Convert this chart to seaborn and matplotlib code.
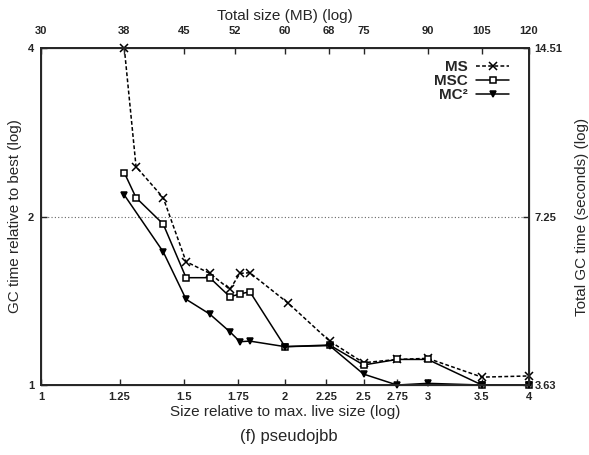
import matplotlib
matplotlib.use("Agg")
import matplotlib.pyplot as plt
import numpy as np
import pandas as pd
import seaborn as sns

# relative heap size (x) and GC time relative to best (y)
ms_x = [1.267, 1.31, 1.415, 1.51, 1.615, 1.71, 1.76, 1.81, 2.02, 2.27, 2.5, 2.75, 3.0, 3.5, 4.0]
ms_y = [4.0, 2.455, 2.161, 1.661, 1.583, 1.482, 1.583, 1.587, 1.399, 1.198, 1.096, 1.111, 1.116, 1.033, 1.038]

msc_x = [1.267, 1.31, 1.415, 1.51, 1.615, 1.71, 1.76, 1.81, 2.0, 2.27, 2.5, 2.75, 3.0, 3.5, 4.0]
msc_y = [2.395, 2.161, 1.939, 1.555, 1.555, 1.438, 1.454, 1.468, 1.171, 1.179, 1.086, 1.111, 1.111, 1.0, 1.0]

mc2_x = [1.267, 1.415, 1.51, 1.615, 1.71, 1.76, 1.81, 2.0, 2.27, 2.5, 2.75, 3.0, 3.5, 4.0]
mc2_y = [2.185, 1.730, 1.423, 1.339, 1.245, 1.195, 1.198, 1.171, 1.176, 1.046, 1.0, 1.007, 1.0, 1.0]

series_names = ["MS", "MSC", "MC²"]

bottom_ticks = [1, 1.25, 1.5, 1.75, 2, 2.25, 2.5, 2.75, 3, 3.5, 4]
bottom_labels = ["1", "1.25", "1.5", "1.75", "2", "2.25", "2.5", "2.75", "3", "3.5", "4"]
top_mb = [30, 38, 45, 52, 60, 68, 75, 90, 105, 120]
base_mb = 30
left_ticks = [1, 2, 4]
right_labels = ["3.63", "7.25", "14.51"]

df = pd.concat(
    [
        pd.DataFrame({"size": ms_x, "time": ms_y, "collector": "MS"}),
        pd.DataFrame({"size": msc_x, "time": msc_y, "collector": "MSC"}),
        pd.DataFrame({"size": mc2_x, "time": mc2_y, "collector": "MC²"}),
    ],
    ignore_index=True,
)

sns.set_style("ticks")
plt.rcParams["font.family"] = ["Liberation Sans", "DejaVu Sans"]

fig = plt.figure(figsize=(5.89, 4.55), dpi=100)
ax = fig.add_axes([0.0696, 0.1538, 0.8285, 0.7407])

styles = {
    "MS": dict(marker="x", linestyle=(0, (2.5, 1.5)), markersize=5.5, mfc="black"),
    "MSC": dict(marker="s", linestyle="-", markersize=4, mfc="white"),
    "MC²": dict(marker="v", linestyle="-", markersize=4.5, mfc="black"),
}
for name in series_names:
    st = styles[name]
    sns.lineplot(
        data=df[df["collector"] == name], x="size", y="time",
        color="black", linewidth=1.1, marker=st["marker"],
        linestyle=st["linestyle"], markersize=st["markersize"],
        markerfacecolor=st["mfc"], markeredgecolor="black", markeredgewidth=1.1,
        label=name, ax=ax, estimator=None, clip_on=False,
    )

ax.set_xscale("log")
ax.set_yscale("log")
ax.set_xlim(1, 4)
ax.set_ylim(1, 4)
ax.axhline(2, color="0.4", linestyle=(0, (1, 2)), linewidth=0.8, zorder=0)

ax.set_xticks(bottom_ticks)
ax.set_xticklabels(bottom_labels)
ax.xaxis.set_minor_locator(matplotlib.ticker.NullLocator())
ax.set_yticks(left_ticks)
ax.set_yticklabels([str(t) for t in left_ticks])
ax.yaxis.set_minor_locator(matplotlib.ticker.NullLocator())
ax.tick_params(direction="in", length=4, width=1, labelsize=8, pad=5)
for lab in ax.get_xticklabels() + ax.get_yticklabels():
    lab.set_fontweight("bold")
ax.set_xlabel("Size relative to max. live size (log)", fontsize=11, labelpad=2)
ax.set_ylabel("GC time relative to best (log)", fontsize=11, labelpad=4)
for sp in ax.spines.values():
    sp.set_linewidth(1.4)
    sp.set_visible(True)

handles, labels = ax.get_legend_handles_labels()
if ax.get_legend() is not None:
    ax.get_legend().remove()

# top axis: total heap size in MB
ax_top = ax.twiny()
ax_top.set_xscale("log")
ax_top.set_xlim(1, 4)
ax_top.set_xticks([m / base_mb for m in top_mb])
ax_top.set_xticklabels([str(m) for m in top_mb], fontweight="bold")
ax_top.xaxis.set_minor_locator(matplotlib.ticker.NullLocator())
ax_top.tick_params(direction="in", length=4, width=1, labelsize=8, pad=9)
ax_top.set_xlabel("Total size (MB) (log)", fontsize=11, labelpad=4)

# right axis: absolute GC time
ax_right = ax.twinx()
ax_right.set_yscale("log")
ax_right.set_ylim(1, 4)
ax_right.set_yticks(left_ticks)
ax_right.set_yticklabels(right_labels, fontweight="bold")
ax_right.yaxis.set_minor_locator(matplotlib.ticker.NullLocator())
ax_right.tick_params(direction="in", length=4, width=1, labelsize=8, pad=4)
ax_right.set_ylabel("Total GC time (seconds) (log)", fontsize=11, labelpad=9)

leg = ax_right.legend(
    handles, labels, loc="upper right", frameon=False, markerfirst=False,
    fontsize=11, handlelength=2.2, handletextpad=0.5, labelspacing=0.0,
    borderaxespad=0.4, bbox_to_anchor=(0.985, 1.0),
)
for t in leg.get_texts():
    t.set_fontweight("bold")

fig.text(0.49, 0.04, "(f) pseudojbb", ha="center", va="center", fontsize=12)

fig.savefig("out.png", dpi=100, facecolor="white")
